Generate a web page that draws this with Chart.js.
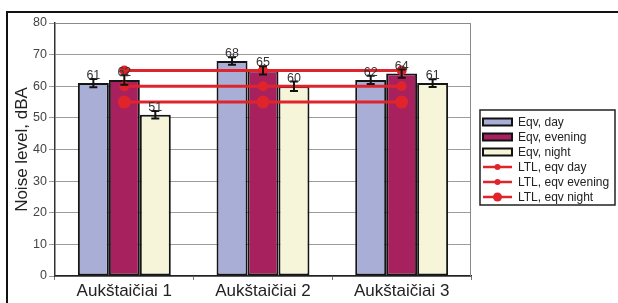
<!DOCTYPE html>
<html>
<head>
<meta charset="utf-8">
<script src="https://cdn.jsdelivr.net/npm/chart.js@4"></script>
<style>
  html, body { margin: 0; padding: 0; background: #fff; }
  #wrap { position: relative; width: 618px; height: 303px; }
</style>
</head>
<body>
<div id="wrap"><canvas id="noiseChart" width="618" height="303"></canvas></div>
<script>
// Duomenys
const categories = ['Aukštaičiai 1', 'Aukštaičiai 2', 'Aukštaičiai 3'];
const eqvDay = [61, 68, 62];
const eqvEvening = [62, 65, 64];
const eqvNight = [51, 60, 61];
const errDay = [1.3, 1.2, 1.3];
const errEvening = [1.5, 1.3, 1.3];
const errNight = [1.2, 1.5, 1.2];
const ltlDay = [65, 65, 65];
const ltlEvening = [60, 60, 60];
const ltlNight = [55, 55, 55];

const RED = '#e0242c';
const FONT = "'Liberation Sans', Arial, sans-serif";

// Rėmelis aplink visą grafiką
const framePlugin = {
    id: 'frame',
    beforeDraw(chart) {
        const ctx = chart.ctx;
        ctx.save();
        ctx.fillStyle = '#fff';
        ctx.fillRect(0, 0, chart.width, chart.height);
        ctx.strokeStyle = '#111';
        ctx.lineWidth = 2;
        ctx.beginPath();
        ctx.moveTo(7, 310);
        ctx.lineTo(7, 12);
        ctx.lineTo(chart.width, 12);
        ctx.stroke();
        ctx.restore();
    },
    afterDraw(chart) {
        // braižymo srities kraštinės
        const a = chart.chartArea;
        const ctx = chart.ctx;
        ctx.save();
        ctx.strokeStyle = '#8a8a8a';
        ctx.lineWidth = 1;
        ctx.beginPath();
        ctx.moveTo(a.left, a.top + 0.5);
        ctx.lineTo(a.right - 0.5, a.top + 0.5);
        ctx.lineTo(a.right - 0.5, a.bottom);
        ctx.stroke();
        ctx.restore();
    }
};

// Paklaidų stulpeliai ir reikšmių žymės
const errorPlugin = {
    id: 'errorBars',
    afterDatasetsDraw(chart) {
        const ctx = chart.ctx;
        const y = chart.scales.y;
        ctx.save();
        chart.data.datasets.forEach((ds, i) => {
            if (!ds.errors) return;
            const meta = chart.getDatasetMeta(i);
            meta.data.forEach((bar, j) => {
                const v = ds.data[j];
                const e = ds.errors[j];
                const yt = y.getPixelForValue(v + e);
                const yb = y.getPixelForValue(v - e);
                ctx.strokeStyle = '#111';
                ctx.lineWidth = 2;
                ctx.beginPath();
                ctx.moveTo(bar.x, yt);
                ctx.lineTo(bar.x, yb);
                ctx.moveTo(bar.x - 4, yt);
                ctx.lineTo(bar.x + 4, yt);
                ctx.moveTo(bar.x - 4, yb);
                ctx.lineTo(bar.x + 4, yb);
                ctx.stroke();
                ctx.fillStyle = '#333';
                ctx.font = '12.5px ' + FONT;
                ctx.textAlign = 'center';
                ctx.textBaseline = 'alphabetic';
                ctx.fillText(String(v), bar.x, y.getPixelForValue(v) - 4);
            });
        });
        ctx.restore();
    }
};

// Legenda dešinėje
const legendPlugin = {
    id: 'boxLegend',
    afterDraw(chart) {
        const ctx = chart.ctx;
        const x0 = 480, y0 = 110, w = 135, h = 95;
        ctx.save();
        ctx.fillStyle = '#fff';
        ctx.fillRect(x0, y0, w, h);
        ctx.strokeStyle = '#222';
        ctx.lineWidth = 1.5;
        ctx.strokeRect(x0, y0, w, h);
        ctx.font = '12px ' + FONT;
        ctx.textBaseline = 'middle';
        ctx.textAlign = 'left';
        chart.data.datasets.forEach((ds, i) => {
            const cy = y0 + 12 + i * 15;
            if (ds.type === 'line') {
                ctx.strokeStyle = RED;
                ctx.lineWidth = 2.5;
                ctx.beginPath();
                ctx.moveTo(x0 + 3, cy);
                ctx.lineTo(x0 + 32, cy);
                ctx.stroke();
                ctx.fillStyle = RED;
                ctx.beginPath();
                ctx.arc(x0 + 17.5, cy, ds.pointRadius - 0.5, 0, Math.PI * 2);
                ctx.fill();
            } else {
                ctx.fillStyle = ds.backgroundColor;
                ctx.fillRect(x0 + 3, cy - 3.5, 29, 7);
                ctx.strokeStyle = '#111';
                ctx.lineWidth = 2;
                ctx.strokeRect(x0 + 3, cy - 3.5, 29, 7);
            }
            ctx.fillStyle = '#222';
            ctx.fillText(ds.label, x0 + 38, cy + 1);
        });
        ctx.restore();
    }
};

const barStyle = { borderColor: '#151515', borderWidth: 2, borderSkipped: false, order: 2 };
const lineStyle = { type: 'line', borderColor: RED, backgroundColor: RED, pointBackgroundColor: RED,
    pointBorderColor: RED, borderWidth: 3, fill: false, tension: 0, order: 0 };

new Chart(document.getElementById('noiseChart'), {
    type: 'bar',
    data: {
        labels: categories,
        datasets: [
            Object.assign({ label: 'Eqv, day', data: eqvDay, errors: errDay, backgroundColor: '#a9aed7' }, barStyle),
            Object.assign({ label: 'Eqv, evening', data: eqvEvening, errors: errEvening, backgroundColor: '#a7215f' }, barStyle),
            Object.assign({ label: 'Eqv, night', data: eqvNight, errors: errNight, backgroundColor: '#f6f4d9' }, barStyle),
            Object.assign({ label: 'LTL, eqv day', data: ltlDay, pointRadius: 3.5 }, lineStyle),
            Object.assign({ label: 'LTL, eqv evening', data: ltlEvening, pointRadius: 3.5 }, lineStyle),
            Object.assign({ label: 'LTL, eqv night', data: ltlNight, pointRadius: 5 }, lineStyle)
        ]
    },
    options: {
        responsive: false,
        animation: false,
        categoryPercentage: 0.67,
        barPercentage: 1.0,
        layout: { padding: { left: 0, top: 23, right: 147, bottom: 0 } },
        plugins: {
            legend: { display: false },
            tooltip: { enabled: false }
        },
        scales: {
            x: {
                offset: true,
                grid: { display: true, drawOnChartArea: false, offset: true, tickLength: 4, color: '#777' },
                border: { color: '#222', width: 1.5 },
                ticks: { font: { size: 17, family: FONT }, color: '#222', padding: 1 },
                afterFit: s => { s.height = 27; }
            },
            y: {
                min: 0,
                max: 80,
                ticks: { stepSize: 10, font: { size: 12.5, family: FONT }, color: '#444', padding: 2 },
                grid: { color: '#9c9c9c', tickLength: 6 },
                border: { color: '#333', width: 1.5 },
                title: { display: true, text: 'Noise level, dBA', font: { size: 17, family: FONT }, color: '#222', padding: { top: 12, bottom: 0 } },
                afterFit: s => { s.width = 55; }
            }
        }
    },
    plugins: [framePlugin, errorPlugin, legendPlugin]
});
</script>
</body>
</html>
